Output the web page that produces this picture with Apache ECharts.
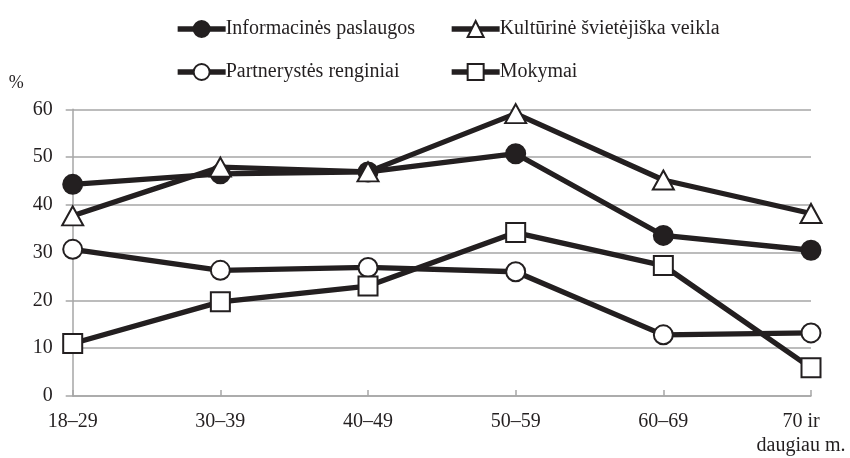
<!DOCTYPE html>
<html><head><meta charset="utf-8">
<script src="https://cdn.jsdelivr.net/npm/echarts@6/dist/echarts.min.js"></script>
<style>html,body{margin:0;padding:0;background:#fff}#c{width:850px;height:458px}</style>
</head><body><div id="c"></div>
<script>
const categories = ['18–29', '30–39', '40–49', '50–59', '60–69', '70 ir\ndaugiau m.'];
const informacines = [44.3, 46.5, 46.9, 50.7, 33.6, 30.5];
const kulturine = [37.7, 47.9, 46.9, 59.1, 45.2, 38.2];
const partnerystes = [30.7, 26.3, 26.9, 26.0, 12.8, 13.2];
const mokymai = [11.0, 19.7, 23.0, 34.2, 27.3, 5.9];
const yTicks = [0, 10, 20, 30, 40, 50, 60];
const names = ['Informacinės paslaugos', 'Kultūrinė švietėjiška veikla', 'Partnerystės renginiai', 'Mokymai'];

const FONT = 'Liberation Serif';
const TXT = '#231f20';
const LINE = '#231f20';
const GRID = '#a6a6a6';

function mk(name, data, symbol, fill, size) {
  return {
    name, type: 'line', data, symbol, symbolSize: size,
    lineStyle: { color: LINE, width: 5.3 },
    itemStyle: { color: fill, borderColor: LINE, borderWidth: 2 },
    emphasis: { disabled: true },
    z: 2
  };
}
function leg(name, left, top) {
  return {
    data: [name], left, top, itemWidth: 48, itemHeight: 20, itemGap: 0,
    lineStyle: { width: 5.3 },
    textStyle: { fontFamily: FONT, fontSize: 20, color: TXT, padding: [0,0,0,-5] },
    selectedMode: false
  };
}
const chart = echarts.init(document.getElementById('c'), null, { renderer: 'canvas' });
chart.setOption({
  animation: false,
  backgroundColor: '#fff',
  grid: { left: 72.7, right: 39, top: 109.3, bottom: 62, containLabel: false, outerBoundsMode: 'none' },
  legend: [
    leg(names[0], 170, 14), leg(names[1], 444, 14),
    leg(names[2], 170, 57), leg(names[3], 444, 57)
  ],
  xAxis: {
    type: 'category', data: categories, boundaryGap: false,
    axisLine: { lineStyle: { color: GRID, width: 1.5 } },
    axisTick: { inside: true, length: 6, interval: 0, lineStyle: { color: GRID, width: 1.5 } },
    axisLabel: {
      interval: 0, hideOverlap: false,
      fontFamily: FONT, fontSize: 20, color: TXT, margin: 14, lineHeight: 24,
      formatter: (v, i) => i === categories.length - 1
        ? v.split('\n').map(s => '{e|' + s + '}').join('\n') : v,
      rich: { e: { fontFamily: FONT, fontSize: 20, color: TXT, lineHeight: 24, padding: [0, 20, 0, 0] } }
    }
  },
  yAxis: {
    type: 'value', min: 0, max: 60, interval: 10,
    name: '%', nameLocation: 'end', nameGap: 17,
    nameTextStyle: { fontFamily: FONT, fontSize: 18, color: TXT, align: 'left', padding: [0,0,0,-64] },
    axisLine: { show: true, lineStyle: { color: GRID, width: 1.5 } },
    axisTick: { show: true, length: 7, lineStyle: { color: GRID, width: 1.5 } },
    splitLine: { lineStyle: { color: GRID, width: 1.5 } },
    axisLabel: { fontFamily: FONT, fontSize: 20, color: TXT, margin: 20,
      formatter: v => yTicks.includes(v) ? String(v) : '' }
  },
  series: [
    mk(names[0], informacines, 'circle', LINE, 19),
    mk(names[1], kulturine, 'triangle', '#fff', [21, 19]),
    mk(names[2], partnerystes, 'circle', '#fff', 19),
    mk(names[3], mokymai, 'rect', '#fff', 19)
  ]
});
</script></body></html>
